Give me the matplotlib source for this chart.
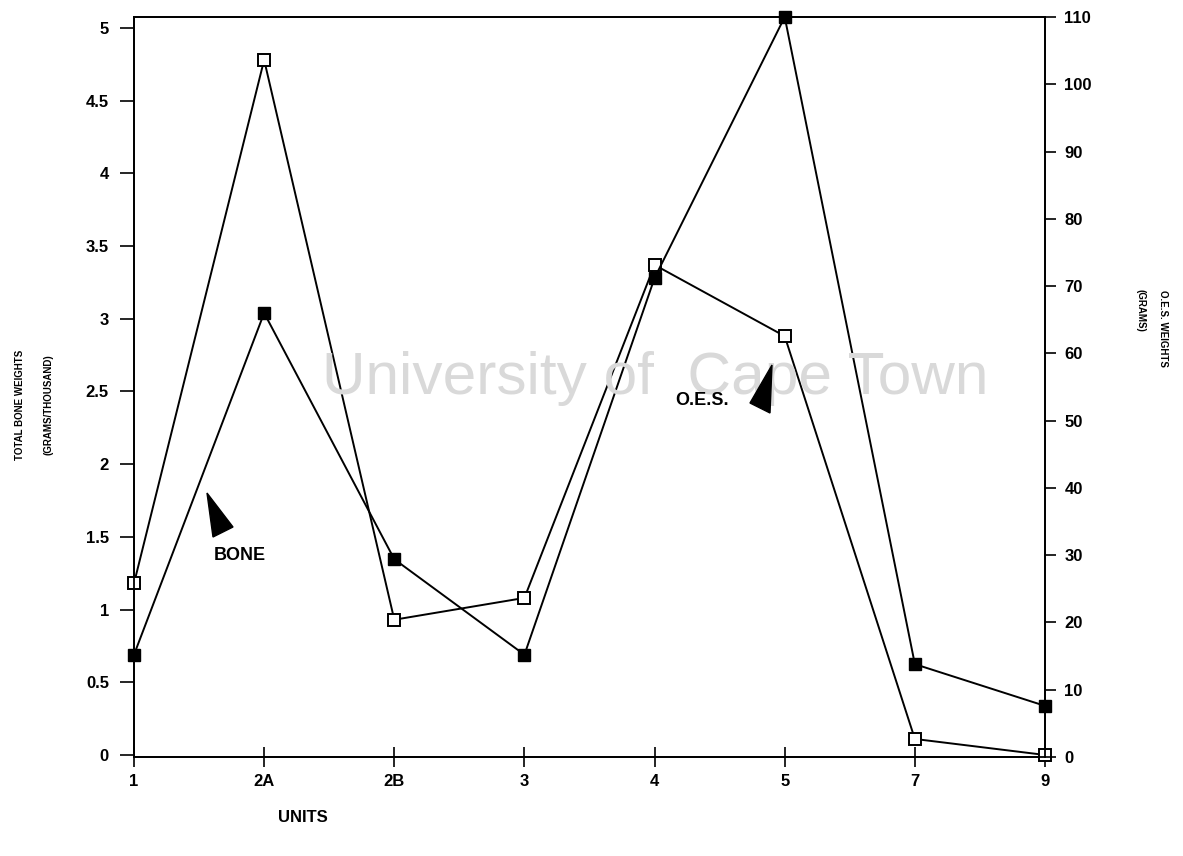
import matplotlib
matplotlib.use("Agg")
import matplotlib.pyplot as plt
from matplotlib.patches import Polygon

units = ["1", "2A", "2B", "3", "4", "5", "7", "9"]
bone = [1.18, 4.78, 0.93, 1.08, 3.37, 2.88, 0.11, 0.0]
oes = [15.2, 66.0, 29.4, 15.2, 71.2, 110.0, 13.8, 7.6]
left_ticks = [0, 0.5, 1, 1.5, 2, 2.5, 3, 3.5, 4, 4.5, 5]
left_labels = ["0", "0.5", "1", "1.5", "2", "2.5", "3", "3.5", "4", "4.5", "5"]
right_ticks = list(range(0, 111, 10))

plt.rcParams['font.family'] = ['Liberation Sans', 'DejaVu Sans']
plt.rcParams['font.weight'] = 'bold'

W, H = 1183, 856
fig = plt.figure(figsize=(W / 100, H / 100), dpi=100)
ax = fig.add_axes([134 / W, 1 - 757 / H, (1045 - 134) / W, (757 - 17) / H])
ax2 = ax.twinx()

x = list(range(len(units)))
ax.plot(x, bone, color='black', lw=1.4, marker='s', ms=8, mfc='white',
        mec='black', mew=1.4, zorder=3, clip_on=False)
ax2.plot(x, oes, color='black', lw=1.4, marker='s', ms=8, mfc='black',
         mec='black', zorder=3, clip_on=False)

ax.set_xlim(0, 7)
ax.set_ylim(-0.014, 5.075)
ax2.set_ylim(0, 110)
ax.set_xticks(x)
ax.set_xticklabels(units, fontsize=12, fontweight='bold')
ax.set_yticks(left_ticks)
ax.set_yticklabels(left_labels, fontsize=12, fontweight='bold')
ax2.set_yticks(right_ticks)
ax2.set_yticklabels([str(v) for v in right_ticks], fontsize=12, fontweight='bold')

ax.tick_params(axis='x', direction='inout', length=14, width=1.2, pad=5)
ax.tick_params(axis='y', direction='out', length=10, width=1.2, pad=8)
ax2.tick_params(axis='y', direction='out', length=8, width=1.2, pad=6)
for a in (ax, ax2):
    for s in a.spines.values():
        s.set_linewidth(1.3)

fig.text(303 / W, 1 - 817 / H, "UNITS", ha='center', va='center',
         fontsize=12, fontweight='bold')
fig.text(20 / W, 1 - 405 / H, "TOTAL BONE WEIGHTS", rotation=90,
         ha='center', va='center', fontsize=7, fontweight='bold')
fig.text(48 / W, 1 - 405 / H, "(GRAMS/THOUSAND)", rotation=90,
         ha='center', va='center', fontsize=7, fontweight='bold')
fig.text(1163 / W, 1 - 328 / H, "O.E.S. WEIGHTS", rotation=-90,
         ha='center', va='center', fontsize=7, fontweight='bold')
fig.text(1140 / W, 1 - 310 / H, "(GRAMS)", rotation=-90,
         ha='center', va='center', fontsize=7, fontweight='bold')

fig.text(655 / W, 1 - 378 / H, "University of  Cape Town", ha='center',
         va='center', fontsize=43.5, fontweight='normal', color='#d9d9d9',
         zorder=0)

def fpoly(pts):
    return Polygon([(px / W, 1 - py / H) for px, py in pts], closed=True,
                   transform=fig.transFigure, facecolor='black',
                   edgecolor='black', zorder=5)

fig.patches.append(fpoly([(207, 493), (233, 527), (213, 537)]))
fig.patches.append(fpoly([(772, 365), (770, 413), (750, 403)]))
fig.text(240 / W, 1 - 555 / H, "BONE", ha='center', va='center',
         fontsize=13, fontweight='bold')
fig.text(702 / W, 1 - 400 / H, "O.E.S.", ha='center', va='center',
         fontsize=13, fontweight='bold')

fig.savefig("out.png", dpi=100)
